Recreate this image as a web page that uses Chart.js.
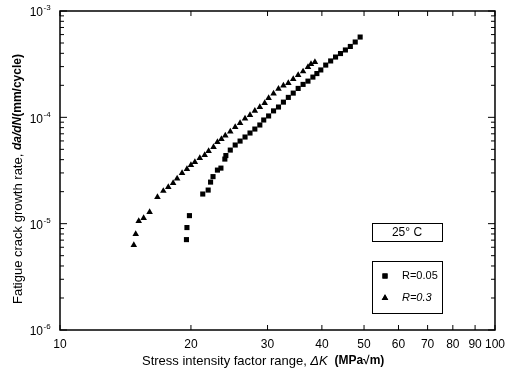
<!DOCTYPE html>
<html>
<head>
<meta charset="utf-8">
<script src="https://cdn.jsdelivr.net/npm/chart.js@4"></script>
<style>
  html, body { margin: 0; padding: 0; background: #fff; }
  #wrap { width: 512px; height: 376px; }
</style>
</head>
<body>
<div id="wrap"><canvas id="crackChart" width="512" height="376"></canvas></div>
<script>
// R = 0.3 (triangles)
const dkR03 = [14.78, 14.93, 15.17, 15.57, 16.07, 16.75, 17.28, 17.74, 18.20, 18.59,
    19.08, 19.58, 20.00, 20.42, 20.96, 21.51, 21.96, 22.54, 23.01, 23.50,
    23.99, 24.63, 25.28, 25.94, 26.63, 27.34, 28.05, 28.80, 29.55, 30.17,
    30.97, 31.79, 32.63, 33.49, 34.37, 35.28, 36.21, 37.16, 37.76, 38.55];
const rateR03 = [6.29e-6, 7.98e-6, 1.057e-5, 1.13e-5, 1.286e-5, 1.78e-5, 2.03e-5, 2.21e-5, 2.41e-5, 2.66e-5,
    2.99e-5, 3.26e-5, 3.56e-5, 3.80e-5, 4.14e-5, 4.42e-5, 4.82e-5, 5.26e-5, 5.86e-5, 6.25e-5,
    6.74e-5, 7.35e-5, 8.11e-5, 8.84e-5, 9.75e-5, 1.05e-4, 1.15e-4, 1.25e-4, 1.36e-4, 1.52e-4,
    1.67e-4, 1.85e-4, 1.99e-4, 2.10e-4, 2.29e-4, 2.50e-4, 2.70e-4, 2.97e-4, 3.17e-4, 3.31e-4];

// R = 0.05 (squares)
const dkR005 = [19.53, 19.58, 19.84, 21.29, 21.91, 22.19, 22.48, 23.01, 23.44, 23.93,
    24.06, 24.63, 25.28, 25.94, 26.63, 27.34, 28.05, 28.80, 29.40, 30.17,
    30.97, 31.79, 32.63, 33.49, 34.37, 35.28, 36.21, 37.16, 38.14, 38.95,
    39.77, 40.82, 41.90, 43.00, 44.14, 45.30, 46.50, 47.72, 48.98];
const rateR005 = [7.08e-6, 9.19e-6, 1.19e-5, 1.90e-5, 2.07e-5, 2.46e-5, 2.77e-5, 3.19e-5, 3.33e-5, 4.05e-5,
    4.37e-5, 4.92e-5, 5.49e-5, 5.98e-5, 6.53e-5, 7.12e-5, 7.76e-5, 8.47e-5, 9.44e-5, 1.03e-4,
    1.15e-4, 1.25e-4, 1.39e-4, 1.54e-4, 1.69e-4, 1.87e-4, 2.04e-4, 2.19e-4, 2.39e-4, 2.58e-4,
    2.79e-4, 3.10e-4, 3.39e-4, 3.69e-4, 3.98e-4, 4.30e-4, 4.64e-4, 5.11e-4, 5.69e-4];

const xTicks = [10, 20, 30, 40, 50, 60, 70, 80, 90, 100];
const yExponents = [-6, -5, -4, -3];
const seriesNames = ['R=0.05', 'R=0.3'];
const tempLabel = '25\u00b0 C';

function toPoints(xs, ys) {
    return xs.map((x, i) => ({ x: x, y: ys[i] }));
}

const FONT = '"Liberation Sans", Arial, sans-serif';

// frame, inward ticks, y labels, axis titles and legend boxes
const decorations = {
    id: 'decorations',
    afterDraw(chart) {
        const ctx = chart.ctx;
        const xs = chart.scales.x;
        const ys = chart.scales.y;
        const a = chart.chartArea;
        ctx.save();
        ctx.strokeStyle = '#000';
        ctx.fillStyle = '#000';

        // frame
        ctx.lineWidth = 1.5;
        ctx.strokeRect(a.left, a.top, a.right - a.left, a.bottom - a.top);

        // y ticks (left and right, inward)
        ctx.lineWidth = 1;
        ctx.beginPath();
        yExponents.forEach(e => {
            for (let m = 1; m <= 9; m++) {
                const v = m * Math.pow(10, e);
                if (v > Math.pow(10, yExponents[yExponents.length - 1])) break;
                const y = ys.getPixelForValue(v);
                const len = m === 1 ? 7 : 4;
                ctx.moveTo(a.left, y); ctx.lineTo(a.left + len, y);
                ctx.moveTo(a.right, y); ctx.lineTo(a.right - len, y);
            }
        });
        // x ticks (bottom and top, inward)
        xTicks.forEach(v => {
            const x = xs.getPixelForValue(v);
            ctx.moveTo(x, a.bottom); ctx.lineTo(x, a.bottom - 5);
            ctx.moveTo(x, a.top); ctx.lineTo(x, a.top + 5);
        });
        ctx.stroke();

        // y tick labels 10^n
        ctx.textBaseline = 'middle';
        yExponents.forEach(e => {
            const y = ys.getPixelForValue(Math.pow(10, e));
            ctx.font = '12px ' + FONT;
            ctx.textAlign = 'right';
            ctx.fillText('10', 43, y + 2);
            ctx.font = '8px ' + FONT;
            ctx.textAlign = 'left';
            ctx.fillText('-' + Math.abs(e), 43.5, y - 3);
        });

        // x axis title
        ctx.textBaseline = 'middle';
        ctx.textAlign = 'left';
        let tx = 142;
        const ty = 361;
        const parts = [
            ['13px ' + FONT, 'Stress intensity factor range, '],
            ['italic 13px ' + FONT, '\u0394K'],
            ['bold 12px ' + FONT, '  (MPa\u221am)']
        ];
        parts.forEach(p => {
            ctx.font = p[0];
            ctx.fillText(p[1], tx, ty);
            tx += ctx.measureText(p[1]).width;
        });

        // y axis title (rotated)
        const yParts = [
            ['13px ' + FONT, 'Fatigue crack growth rate, '],
            ['bold italic 12px ' + FONT, 'da/dN'],
            ['bold 12px ' + FONT, '(mm/cycle)']
        ];
        let total = 0;
        yParts.forEach(p => { ctx.font = p[0]; total += ctx.measureText(p[1]).width; });
        ctx.translate(18, 179);
        ctx.rotate(-Math.PI / 2);
        let ox = -total / 2;
        yParts.forEach(p => {
            ctx.font = p[0];
            ctx.fillText(p[1], ox, 0);
            ox += ctx.measureText(p[1]).width;
        });
        ctx.setTransform(1, 0, 0, 1, 0, 0);

        // temperature box
        ctx.lineWidth = 1;
        ctx.strokeRect(372.5, 223.5, 70, 18);
        ctx.font = '12px ' + FONT;
        ctx.textAlign = 'center';
        ctx.fillText(tempLabel, 407, 233);

        // legend box
        ctx.strokeRect(372.5, 261.5, 70, 52);
        const styles = [chart.data.datasets[0], chart.data.datasets[1]];
        const rows = [276, 298];
        styles.forEach((ds, i) => {
            Chart.helpers.drawPoint(ctx, {
                pointStyle: ds.pointStyle, radius: ds.pointRadius, rotation: 0, borderWidth: 0
            }, 385, rows[i]);
            ctx.fillStyle = '#000';
            ctx.fill();
            ctx.textAlign = 'left';
            const name = seriesNames[i];
            if (i === 1) {
                ctx.font = 'italic 11px ' + FONT;
                ctx.fillText(name, 402, rows[i]);
            } else {
                ctx.font = '11px ' + FONT;
                ctx.fillText(name, 402, rows[i]);
            }
        });
        ctx.restore();
    }
};

new Chart(document.getElementById('crackChart').getContext('2d'), {
    type: 'scatter',
    data: {
        datasets: [{
            label: seriesNames[0],
            data: toPoints(dkR005, rateR005),
            pointStyle: 'rect',
            pointRadius: 3.6,
            backgroundColor: '#000',
            borderColor: '#000',
            borderWidth: 0
        }, {
            label: seriesNames[1],
            data: toPoints(dkR03, rateR03),
            pointStyle: 'triangle',
            pointRadius: 3.8,
            backgroundColor: '#000',
            borderColor: '#000',
            borderWidth: 0
        }]
    },
    options: {
        responsive: false,
        animation: false,
        layout: { padding: { left: 0, top: 11, right: 10, bottom: 0 } },
        plugins: {
            legend: { display: false },
            tooltip: { enabled: false }
        },
        scales: {
            x: {
                type: 'logarithmic',
                min: 10,
                max: 100,
                afterBuildTicks: s => { s.ticks = xTicks.map(v => ({ value: v })); },
                afterFit: s => { s.height = 46; },
                ticks: {
                    color: '#000',
                    font: { family: FONT, size: 12 },
                    padding: 7,
                    maxRotation: 0,
                    autoSkip: false,
                    callback: v => String(v)
                },
                grid: { display: false, drawTicks: false },
                border: { display: false }
            },
            y: {
                type: 'logarithmic',
                min: 1e-6,
                max: 1e-3,
                afterFit: s => { s.width = 60; },
                ticks: { display: false },
                grid: { display: false, drawTicks: false },
                border: { display: false }
            }
        }
    },
    plugins: [decorations]
});
</script>
</body>
</html>
